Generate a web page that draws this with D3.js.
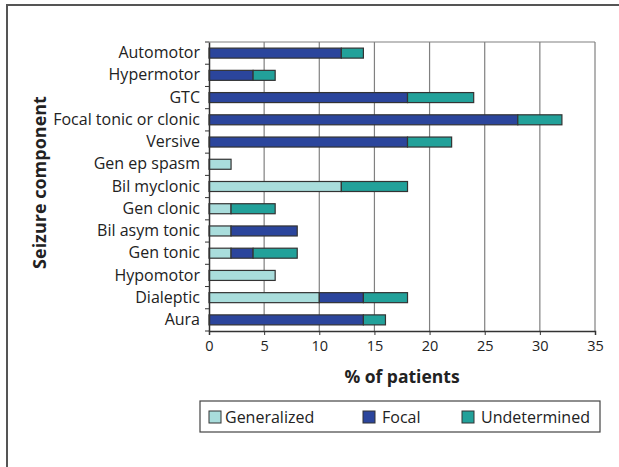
<!DOCTYPE html>
<html>
<head>
<meta charset="utf-8">
<script src="https://cdn.jsdelivr.net/npm/d3@7"></script>
<style>
    body { margin: 0; background: #fff; }
    text { font-family: "Open Sans", sans-serif; fill: #222; }
</style>
</head>
<body>
<div id="chart"></div>
<script>
// categories, top to bottom
var categories = ["Automotor", "Hypermotor", "GTC", "Focal tonic or clonic", "Versive",
    "Gen ep spasm", "Bil myclonic", "Gen clonic", "Bil asym tonic", "Gen tonic",
    "Hypomotor", "Dialeptic", "Aura"];

// % of patients per series
var generalized  = [0, 0, 0, 0, 0, 2, 12, 2, 2, 2, 6, 10, 0];
var focal        = [12, 4, 18, 28, 18, 0, 0, 0, 6, 2, 0, 4, 14];
var undetermined = [2, 2, 6, 4, 4, 0, 6, 4, 0, 4, 0, 4, 2];

var seriesNames = ["Generalized", "Focal", "Undetermined"];
var seriesColors = ["#a9dddc", "#2b459c", "#22a19a"];
var xTicks = [0, 5, 10, 15, 20, 25, 30, 35];

var table = categories.map(function (c, i) {
    return { cat: c, Generalized: generalized[i], Focal: focal[i], Undetermined: undetermined[i] };
});

var W = 619, H = 467;
var margin = { top: 42, right: 24, bottom: 136, left: 209 },
    width = W - margin.left - margin.right,
    height = H - margin.top - margin.bottom;

var root = d3.select("#chart").append("svg")
    .attr("width", W)
    .attr("height", H);

// outer frame
root.append("path")
    .attr("d", "M7," + H + "V5H" + W)
    .attr("fill", "none")
    .attr("stroke", "#555")
    .attr("stroke-width", 2);

var svg = root.append("g")
    .attr("transform", "translate(" + margin.left + "," + margin.top + ")");

var x = d3.scaleLinear().domain([0, 35]).range([0, width]);
var y = d3.scaleBand().domain(categories).range([0, height]).paddingInner(0.55).paddingOuter(0.275);

// gridlines
svg.append("g")
    .selectAll("line")
    .data(xTicks.slice(1))
    .enter().append("line")
    .attr("x1", function (d) { return x(d); })
    .attr("x2", function (d) { return x(d); })
    .attr("y1", 0)
    .attr("y2", height)
    .attr("stroke", "#808080")
    .attr("stroke-width", 1.2);

// top border
svg.append("line")
    .attr("x1", 0).attr("x2", width)
    .attr("y1", 0).attr("y2", 0)
    .attr("stroke", "#808080")
    .attr("stroke-width", 1.2);

// stacked bars
var stack = d3.stack().keys(seriesNames);
var layers = stack(table);

svg.append("g")
    .selectAll("g")
    .data(layers)
    .enter().append("g")
    .attr("fill", function (d, i) { return seriesColors[i]; })
    .selectAll("rect")
    .data(function (d) { return d.filter(function (p) { return p[1] > p[0]; }); })
    .enter().append("rect")
    .attr("x", function (d) { return x(d[0]); })
    .attr("y", function (d) { return y(d.data.cat); })
    .attr("width", function (d) { return x(d[1]) - x(d[0]); })
    .attr("height", y.bandwidth())
    .attr("stroke", "#333")
    .attr("stroke-width", 1.2);

// X axis
var xAxis = svg.append("g")
    .attr("transform", "translate(0," + height + ")")
    .call(d3.axisBottom(x).tickValues(xTicks).tickSize(4).tickPadding(6));
xAxis.select(".domain").attr("stroke", "#333").attr("stroke-width", 1.5);
xAxis.selectAll(".tick line").attr("stroke", "#333");
xAxis.selectAll("text").style("font-size", "14.5px").attr("fill", "#222");

// Y axis, ticks on band edges
var yAxis = svg.append("g")
    .call(d3.axisLeft(y).tickSize(0).tickPadding(9));
yAxis.select(".domain").attr("stroke", "#333").attr("stroke-width", 1.5);
yAxis.selectAll("text").style("font-size", "16px").attr("fill", "#222");

var step = y.step();
svg.append("g")
    .selectAll("line")
    .data(d3.range(categories.length + 1))
    .enter().append("line")
    .attr("x1", -4).attr("x2", 0)
    .attr("y1", function (i) { return i * step; })
    .attr("y2", function (i) { return i * step; })
    .attr("stroke", "#333");

// axis titles
svg.append("text")
    .attr("text-anchor", "middle")
    .attr("x", width / 2)
    .attr("y", height + 52)
    .style("font-size", "17.5px")
    .style("font-weight", "bold")
    .text("% of patients");

svg.append("text")
    .attr("text-anchor", "middle")
    .attr("transform", "rotate(-90)")
    .attr("x", -height / 2 + 4)
    .attr("y", -margin.left + 46)
    .style("font-size", "18px")
    .style("font-weight", "bold")
    .text("Seizure component");

// legend
var legend = root.append("g").attr("transform", "translate(200,401)");
legend.append("rect")
    .attr("width", 400).attr("height", 31)
    .attr("fill", "#fff")
    .attr("stroke", "#444")
    .attr("stroke-width", 1.2);

var legendX = [9, 163, 262];
var item = legend.selectAll(".item")
    .data(seriesNames)
    .enter().append("g")
    .attr("transform", function (d, i) { return "translate(" + legendX[i] + ",10)"; });
item.append("rect")
    .attr("width", 12).attr("height", 12)
    .attr("fill", function (d, i) { return seriesColors[i]; })
    .attr("stroke", "#333");
item.append("text")
    .attr("x", function (d, i) { return i === 0 ? 16 : 19; })
    .attr("y", 6)
    .attr("dy", "0.35em")
    .style("font-size", "16px")
    .text(function (d) { return d; });
</script>
</body>
</html>
